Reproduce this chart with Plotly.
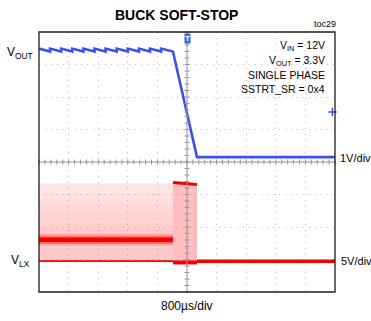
import plotly.graph_objects as go
import numpy as np

# ---------------- data ----------------
title_text = "BUCK SOFT-STOP"
x_range_us = [0, 8000]          # 800 us/div, 10 div
x_div_us = 800

# V_OUT channel (1 V/div), volts
t_vout = [0, 300, 300, 600, 600, 900, 900, 1200, 1200, 1500, 1500, 1800, 1800,
          2100, 2100, 2400, 2400, 2700, 2700, 3000, 3000, 3300, 3300, 3620,
          4270, 8000]
v_vout = [3.34, 3.25, 3.34, 3.25, 3.34, 3.25, 3.34, 3.25, 3.34, 3.25, 3.34, 3.25, 3.34,
          3.25, 3.34, 3.25, 3.34, 3.25, 3.34, 3.25, 3.34, 3.25, 3.34, 3.25,
          0.0, 0.0]

# V_LX channel (5 V/div), volts
t_switch = [0, 3620]
vlx_switch_high = [12.0, 12.0]
vlx_density_levels = [10.5, 9.0, 7.5, 6.0, 5.0]   # switching-envelope density contours
vlx_switch_avg = [3.3, 3.3]
vlx_switch_low = [0.0, 0.0]
t_trans = [3620, 4270]
vlx_trans_high = [12.1, 11.8]
vlx_trans_low = [-0.2, -0.2]
t_off = [4270, 8000]
vlx_off = [0.0, 0.0]

# marker levels
trigger_time_us = 4000
vout_marker = [7930, 1.39]

spec_lines = ["V<sub>IN</sub> = 12V", "V<sub>OUT</sub> = 3.3V", "SINGLE PHASE", "SSTRT_SR = 0x4"]

# ---------------- styles ----------------
BLUE = "rgb(60,80,235)"
RED = "rgb(245,0,0)"
FONT = "Liberation Sans, Arial, sans-serif"

fig = go.Figure()

def add(x, y, axis, **kw):
    kw.setdefault("mode", "lines")
    fig.add_trace(go.Scatter(x=x, y=y, yaxis=axis, showlegend=False, hoverinfo="skip", **kw))

def band(x, lo, hi, color):
    add(x, lo, "y2", line=dict(width=0))
    add(x, hi, "y2", line=dict(width=0), fill="tonexty", fillcolor=color)

# V_LX switching envelope layers (gradient towards the average level)
band(t_switch, vlx_switch_low, vlx_switch_high, "rgba(255,0,0,0.10)")
for lvl in vlx_density_levels:
    band(t_switch, vlx_switch_low, [lvl] * len(t_switch), "rgba(255,0,0,0.025)")
add(t_switch, vlx_switch_avg, "y2", line=dict(color="rgba(255,0,0,0.18)", width=12))
add(t_switch, vlx_switch_avg, "y2", line=dict(color="rgba(255,0,0,0.35)", width=8))
add(t_switch, vlx_switch_avg, "y2", line=dict(color=RED, width=4.5))
add(t_switch, vlx_switch_low, "y2", line=dict(color=RED, width=1.8))

# transition block
band(t_trans, vlx_trans_low, vlx_trans_high, "rgba(255,0,0,0.26)")
add(t_trans, vlx_trans_high, "y2", line=dict(color=RED, width=3))
add(t_trans, vlx_trans_low, "y2", line=dict(color=RED, width=4))
# off
add(t_off, vlx_off, "y2", line=dict(color=RED, width=3.5))

# V_OUT
add(t_vout, v_vout, "y", line=dict(color=BLUE, width=2.6))
add([vout_marker[0]], [vout_marker[1]], "y", mode="markers",
    marker=dict(symbol="cross-thin", size=6, line=dict(color=BLUE, width=1.5)), cliponaxis=False)

# ---------------- axes ----------------
grid = dict(showgrid=True, gridcolor="rgb(190,190,190)", griddash="1px,5px", gridwidth=1,
            zeroline=False, showticklabels=False, ticks="", showline=False, fixedrange=True)
fig.update_layout(
    width=371, height=321,
    margin=dict(l=39, r=36, t=32, b=29),
    paper_bgcolor="white", plot_bgcolor="white",
    xaxis=dict(range=x_range_us, tick0=0, dtick=x_div_us, **grid),
    yaxis=dict(range=[-4.15, 3.85], tick0=-0.15, dtick=1, **grid),
    yaxis2=dict(range=[-4.75, 35.25], overlaying="y", showgrid=False, zeroline=False,
                showticklabels=False, ticks="", fixedrange=True),
    font=dict(family=FONT, color="black"),
    hovermode=False,
)

shapes = []
CL = "rgb(150,150,165)"
shapes.append(dict(type="line", xref="paper", yref="paper", x0=0, x1=1, y0=0.5, y1=0.5,
                   line=dict(color=CL, width=1)))
shapes.append(dict(type="line", xref="paper", yref="paper", x0=0.5, x1=0.5, y0=0, y1=1,
                   line=dict(color=CL, width=1)))
for k in range(51):
    xp = k / 50
    shapes.append(dict(type="line", xref="paper", yref="paper", x0=xp, x1=xp,
                       y0=0.5 - 2.5 / 260, y1=0.5 + 2.5 / 260, line=dict(color=CL, width=1)))
for k in range(41):
    yp = k / 40
    shapes.append(dict(type="line", xref="paper", yref="paper", y0=yp, y1=yp,
                       x0=0.5 - 2.5 / 296, x1=0.5 + 2.5 / 296, line=dict(color=CL, width=1)))
shapes.append(dict(type="rect", xref="paper", yref="paper", x0=0, x1=1, y0=0, y1=1,
                   line=dict(color="rgb(30,30,30)", width=1.3)))
fig.update_layout(shapes=shapes)

ann = []
ann.append(dict(text="<b>" + title_text + "</b>", x=0.463, y=1.065, xref="paper", yref="paper",
                showarrow=False, font=dict(size=14, family=FONT), xanchor="center", yanchor="middle"))
ann.append(dict(text="toc29", x=1.0101, y=1.031, xref="paper", yref="paper", showarrow=False,
                font=dict(size=9, family=FONT), xanchor="right", yanchor="middle"))
for txt, yp in zip(spec_lines, [0.946, 0.888, 0.833, 0.781]):
    ann.append(dict(text=txt, x=0.973, y=yp, xref="paper", yref="paper", showarrow=False,
                    font=dict(size=10.5, family=FONT), xanchor="right", yanchor="middle"))
ann.append(dict(text="V<sub>OUT</sub>", x=-0.0135, y=0.919, xref="paper", yref="paper", showarrow=False,
                font=dict(size=12, family=FONT), xanchor="right", yanchor="middle"))
ann.append(dict(text="V<sub>LX</sub>", x=-0.0236, y=0.119, xref="paper", yref="paper", showarrow=False,
                font=dict(size=12, family=FONT), xanchor="right", yanchor="middle"))
ann.append(dict(text="1V/div", x=1.0101, y=0.515, xref="paper", yref="paper", showarrow=False,
                font=dict(size=11, family=FONT), xanchor="left", yanchor="middle"))
ann.append(dict(text="5V/div", x=1.0135, y=0.119, xref="paper", yref="paper", showarrow=False,
                font=dict(size=11, family=FONT), xanchor="left", yanchor="middle"))
ann.append(dict(text="800µs/div", x=0.5, y=-0.054, xref="paper", yref="paper", showarrow=False,
                font=dict(size=12, family=FONT), xanchor="center", yanchor="middle"))
ann.append(dict(text="<b>T</b>", x=trigger_time_us, y=1, xref="x", yref="paper", showarrow=False,
                font=dict(size=8, family=FONT, color="white"), bgcolor="rgb(50,110,220)",
                borderpad=0, xanchor="center", yanchor="top", yshift=-1))
fig.update_layout(annotations=ann)

fig.write_html("out.html", config={"displayModeBar": False, "staticPlot": True},
               post_script="document.body.style.margin='0px';document.body.style.overflow='hidden';")
